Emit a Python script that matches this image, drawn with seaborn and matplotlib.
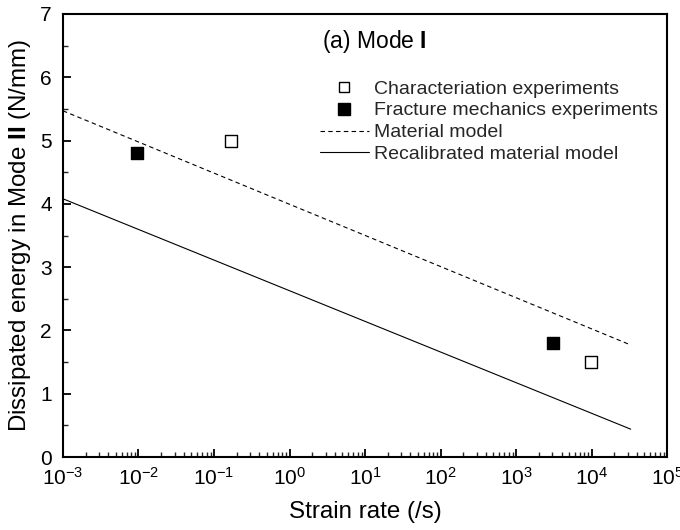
import numpy as np
import matplotlib
matplotlib.use("Agg")
import matplotlib.pyplot as plt
import seaborn as sns
from matplotlib.lines import Line2D
from matplotlib.ticker import LogLocator, MultipleLocator

# ---- data ----
char_rate = [0.168, 9800.0]
char_energy = [5.0, 1.5]
frac_rate = [0.0095, 3100.0]
frac_energy = [4.8, 1.8]
model_rate = [1e-3, 3.3e4]
model_energy = [5.47, 1.77]
recal_rate = [1e-3, 3.3e4]
recal_energy = [4.08, 0.44]

x_ticks = [1e-3, 1e-2, 1e-1, 1e0, 1e1, 1e2, 1e3, 1e4, 1e5]
y_ticks = [0, 1, 2, 3, 4, 5, 6, 7]

sns.set_theme(style="ticks")
plt.rcParams["font.family"] = ["Liberation Sans", "DejaVu Sans"]
plt.rcParams["mathtext.fontset"] = "custom"
plt.rcParams["mathtext.rm"] = "Liberation Sans"
plt.rcParams["mathtext.bf"] = "Liberation Sans:bold"
plt.rcParams["mathtext.it"] = "Liberation Sans:italic"

fig, ax = plt.subplots(figsize=(6.8, 5.3), dpi=100)
fig.subplots_adjust(left=0.0926, right=0.981, top=0.9736, bottom=0.1377)

ax.set_xscale("log")

sns.lineplot(x=model_rate, y=model_energy, ax=ax, color="black", lw=0.8,
             linestyle=(0, (4, 3)), legend=False)
sns.lineplot(x=recal_rate, y=recal_energy, ax=ax, color="black", lw=0.8,
             linestyle="-", legend=False)
sns.scatterplot(x=char_rate, y=char_energy, ax=ax, marker="s", s=72,
                facecolor="white", edgecolor="black", linewidth=1.0, legend=False, zorder=3)
sns.scatterplot(x=frac_rate, y=frac_energy, ax=ax, marker="s", s=82,
                color="black", edgecolor="black", linewidth=1.0, legend=False, zorder=3)

ax.set_xlim(1e-3, 1e5)
ax.set_ylim(0, 7)
ax.set_xticks(x_ticks)
ax.xaxis.set_minor_locator(LogLocator(base=10, subs=np.arange(2, 10), numticks=20))
ax.set_yticks(y_ticks)
ax.yaxis.set_minor_locator(MultipleLocator(0.5))

for s in ax.spines.values():
    s.set_linewidth(1.5)
    s.set_color("black")

ax.tick_params(axis="both", which="major", direction="in", length=6, width=1.3,
               labelsize=15, colors="black", top=False, right=False)
ax.tick_params(axis="x", which="major", pad=7)
ax.tick_params(axis="y", which="major", pad=8)
ax.tick_params(axis="both", which="minor", direction="in", length=3.5, width=1.0,
               top=False, right=False)

ax.set_xlabel("Strain rate (/s)", fontsize=17.4, labelpad=9, color="black")
ax.set_ylabel(r"Dissipated energy in Mode $\mathbf{II}$ (N/mm)", fontsize=17.4,
              labelpad=5, color="black")

ax.text(0.428, 0.939, r"(a) Mode $\mathbf{I}$", transform=ax.transAxes,
        fontsize=16.5, ha="left", va="center", color="black")

h_char = Line2D([], [], ls="none", marker="s", ms=7.5, mfc="white", mec="black", mew=1.0)
h_frac = Line2D([], [], ls="none", marker="s", ms=8.5, mfc="black", mec="black", mew=1.0)
h_model = Line2D([], [], color="black", lw=0.8, ls=(0, (4, 3)))
h_recal = Line2D([], [], color="black", lw=0.8, ls="-")

leg = ax.legend([h_char, h_frac, h_model, h_recal],
                ["Characteriation experiments", "Fracture mechanics experiments",
                 "Material model", "Recalibrated material model"],
                loc="upper left", bbox_to_anchor=(320 / 680, 1 - 80 / 530),
                bbox_transform=fig.transFigure, frameon=False, fontsize=14,
                handlelength=2.5, handletextpad=0.3, labelspacing=0.22,
                borderpad=0, borderaxespad=0, numpoints=1)

fig.savefig("out.png", dpi=100)
